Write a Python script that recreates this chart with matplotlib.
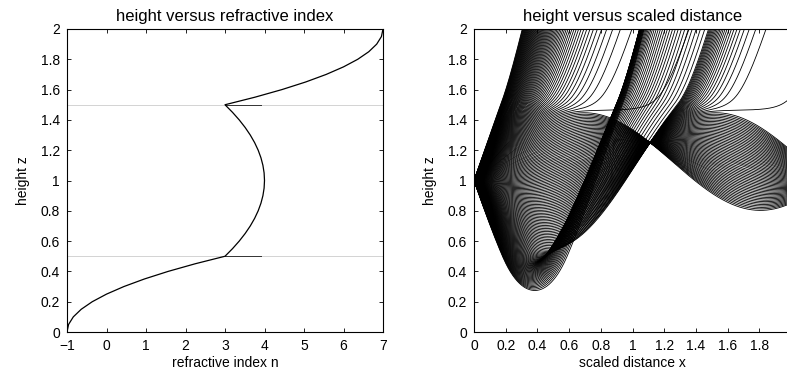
import numpy as np
import matplotlib
matplotlib.use('Agg')
import matplotlib.pyplot as plt

plt.rcParams['font.family'] = ['Liberation Sans', 'DejaVu Sans']
plt.rcParams['font.size'] = 10

# refractive index profile
profile_z = [0.00, 0.05, 0.10, 0.15, 0.20, 0.25, 0.30, 0.35, 0.40, 0.45,
             0.50, 0.55, 0.60, 0.65, 0.70, 0.75, 0.80, 0.85, 0.90, 0.95,
             1.00, 1.05, 1.10, 1.15, 1.20, 1.25, 1.30, 1.35, 1.40, 1.45,
             1.50, 1.55, 1.60, 1.65, 1.70, 1.75, 1.80, 1.85, 1.90, 1.95,
             2.00]
profile_n = [-1.00, -0.96, -0.84, -0.64, -0.36, 0.00, 0.44, 0.96, 1.56, 2.24,
             3.00, 3.19, 3.36, 3.51, 3.64, 3.75, 3.84, 3.91, 3.96, 3.99,
             4.00, 3.99, 3.96, 3.91, 3.84, 3.75, 3.64, 3.51, 3.36, 3.19,
             3.00, 3.76, 4.44, 5.04, 5.56, 6.00, 6.36, 6.64, 6.84, 6.96,
             7.00]

layer_edges = [0.5, 1.5]
edge_mark_n = [3.0, 3.9]

# ray fan launched from the source on the right panel
source_z = 1.0
slope_range = [-3.0, 3.0]
n_rays = 201
curvature = 1.0
x_end = 2.0

pz = np.array(profile_z)
pn = np.array(profile_n)
dn_table = np.gradient(pn, pz)


def force(z):
    return np.interp(z, pz, dn_table) + curvature


def trace(p0, dx=0.001):
    z = np.full_like(p0, source_z)
    p = p0.copy()
    alive = np.ones(p0.shape, dtype=bool)
    xs = [0.0]
    zs = [z.copy()]
    x = 0.0
    while x < x_end:
        k1z, k1p = p, force(z)
        k2z, k2p = p + dx / 2 * k1p, force(z + dx / 2 * k1z)
        k3z, k3p = p + dx / 2 * k2p, force(z + dx / 2 * k2z)
        k4z, k4p = p + dx * k3p, force(z + dx * k3z)
        z = z + dx / 6 * (k1z + 2 * k2z + 2 * k3z + k4z)
        p = p + dx / 6 * (k1p + 2 * k2p + 2 * k3p + k4p)
        x += dx
        alive &= (z <= 2.05) & (z >= -0.05)
        xs.append(x)
        zs.append(np.where(alive, z, np.nan))
    return np.array(xs), np.array(zs)


slopes = np.linspace(slope_range[0], slope_range[1], n_rays)
ray_x, ray_z = trace(slopes)

fig = plt.figure(figsize=(7.87, 3.77), dpi=100)
ax1 = fig.add_axes([67 / 787, 45 / 377, 316 / 787, 303 / 377])
ax2 = fig.add_axes([474 / 787, 45 / 377, 317 / 787, 303 / 377])

# left: profile
for ze in layer_edges:
    ax1.plot([-1, 7], [ze, ze], color='0.8', lw=0.6)
    ax1.plot(edge_mark_n, [ze, ze], color='0.2', lw=0.7)
ax1.plot(profile_n, profile_z, color='k', lw=0.9)
ax1.set_xlim(-1, 7)
ax1.set_ylim(0, 2)
ax1.set_xticks(range(-1, 8))
ax1.set_xticklabels(['\u22121'] + [str(i) for i in range(0, 8)])
ax1.set_xlabel('refractive index n', labelpad=2)
ax1.set_title('height versus refractive index', pad=6)

# right: rays
ax2.plot(ray_x, ray_z, color='k', lw=0.6)
ax2.set_xlim(0, 2)
ax2.set_ylim(0, 2)
xt = [0, 0.2, 0.4, 0.6, 0.8, 1, 1.2, 1.4, 1.6, 1.8, 2]
ax2.set_xticks(xt)
ax2.set_xticklabels(['%g' % v for v in xt])
ax2.set_xlabel('scaled distance x', labelpad=2)
ax2.set_title('height versus scaled distance', pad=6)

yt = [0, 0.2, 0.4, 0.6, 0.8, 1, 1.2, 1.4, 1.6, 1.8, 2]
for ax in (ax1, ax2):
    ax.set_yticks(yt)
    ax.set_yticklabels(['%g' % v for v in yt])
    ax.set_ylabel('height z', labelpad=8)
    ax.tick_params(direction='in', length=3, width=0.6, top=True, right=True,
                   pad=5, labelsize=10)
    for s in ax.spines.values():
        s.set_linewidth(0.8)

fig.savefig('out.png', dpi=100)
